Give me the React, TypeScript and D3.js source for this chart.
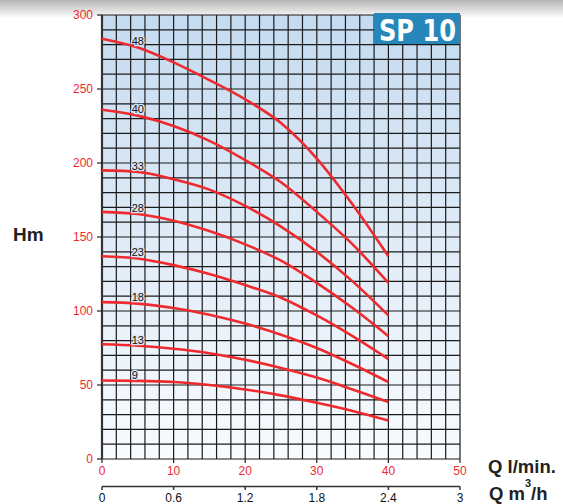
import React from "react";
import * as d3 from "d3";

// flow points (l/min) where the curves were read
const Q_LMIN = [0, 5, 10, 15, 20, 25, 30, 35, 40];

// head (m) per number of stages
const STAGES = ["48", "40", "33", "28", "23", "18", "13", "9"];
const H_48 = [284, 278, 268, 256, 243, 227, 203, 172, 137];
const H_40 = [236, 232, 225, 215, 202, 187, 167, 145, 119];
const H_33 = [195, 194, 189, 182, 171, 157, 140, 120, 97];
const H_28 = [167, 165.5, 161, 154, 145, 134, 119, 102, 83];
const H_23 = [137, 135.5, 131, 125, 117.5, 109, 97, 83, 67.5];
const H_18 = [106, 105, 102, 97.5, 91.5, 84, 75, 64, 52];
const H_13 = [77.5, 76.5, 74.5, 71.5, 67, 61.5, 55, 47, 38.5];
const H_9 = [53, 52.8, 52, 50, 47, 43, 38, 32.5, 26];

const H_TICKS = [0, 50, 100, 150, 200, 250, 300];
const Q_TICKS = [0, 10, 20, 30, 40, 50];
const M3H_TICKS = [0, 0.6, 1.2, 1.8, 2.4, 3];

const W = 563;
const H = 504;
const RED = "#ee2a2f";
const FONT = "'Liberation Sans', Arial, sans-serif";

export default function App() {
  const x = d3.scaleLinear().domain([0, 50]).range([102, 460]);
  const y = d3.scaleLinear().domain([0, 300]).range([459, 15]);
  const xm3 = d3.scaleLinear().domain([0, 3]).range([102, 460]);

  const series = [H_48, H_40, H_33, H_28, H_23, H_18, H_13, H_9];

  const line = d3
    .line<number>()
    .x((_, i) => x(Q_LMIN[i]))
    .y((d) => y(d))
    .curve(d3.curveMonotoneX);

  const vGrid = d3.range(0, 51, 2);
  const hGrid = d3.range(0, 301, 10);

  return (
    <svg
      width={W}
      height={H}
      style={{ position: "absolute", left: 0, top: 0 }}
      fontFamily={FONT}
    >
      <defs>
        <linearGradient id="topband" x1="0" y1="0" x2="0" y2="1">
          <stop offset="0" stopColor="#b4b4b4" />
          <stop offset="1" stopColor="#ffffff" />
        </linearGradient>
        <linearGradient id="plotbg" x1="0" y1="0" x2="0" y2="1">
          <stop offset="0" stopColor="#c5dbf0" />
          <stop offset="0.5" stopColor="#dfebf7" />
          <stop offset="1" stopColor="#f8fbfe" />
        </linearGradient>
      </defs>
      <rect width={W} height={H} fill="#fff" />
      <rect width={W} height={18} fill="url(#topband)" />

      {/* plot background */}
      <rect x={x(0)} y={y(300)} width={x(50) - x(0)} height={y(0) - y(300)} fill="url(#plotbg)" />

      {/* grid */}
      <g stroke="#1b1b1b" strokeWidth={1.2}>
        {vGrid.map((q) => (
          <line key={"v" + q} x1={x(q)} x2={x(q)} y1={y(300)} y2={y(0)} />
        ))}
        {hGrid.map((h) => (
          <line key={"h" + h} x1={x(0)} x2={x(50)} y1={y(h)} y2={y(h)} />
        ))}
      </g>
      <line x1={x(0)} x2={x(0)} y1={y(300)} y2={y(0)} stroke="#333" strokeWidth={2.2} />

      {/* left axis ticks */}
      {H_TICKS.map((h) => (
        <g key={"ht" + h}>
          <line x1={x(0) - 5} x2={x(0)} y1={y(h)} y2={y(h)} stroke="#222" strokeWidth={1.2} />
          <text x={x(0) - 9} y={y(h)} dy="0.35em" textAnchor="end" fill={RED} fontSize={12}>
            {h}
          </text>
        </g>
      ))}

      {/* l/min axis */}
      {Q_TICKS.map((q) => (
        <g key={"qt" + q}>
          <line x1={x(q)} x2={x(q)} y1={y(0)} y2={y(0) + 4} stroke="#222" strokeWidth={1.2} />
          <text x={x(q)} y={475} textAnchor="middle" fill={RED} fontSize={12}>
            {q}
          </text>
        </g>
      ))}

      {/* m3/h axis */}
      <line x1={xm3(0)} x2={xm3(3)} y1={486.5} y2={486.5} stroke="#333" strokeWidth={1.5} />
      {M3H_TICKS.map((m) => (
        <g key={"mt" + m}>
          <line x1={xm3(m)} x2={xm3(m)} y1={486.5} y2={490} stroke="#333" strokeWidth={1.5} />
          <text x={xm3(m)} y={502} textAnchor="middle" fill="#111" fontSize={12}>
            {m}
          </text>
        </g>
      ))}

      {/* curves */}
      {series.map((s, i) => (
        <path key={"c" + i} d={line(s) || ""} fill="none" stroke={RED} strokeWidth={2.6} />
      ))}

      {/* stage labels */}
      {series.map((s, i) => {
        const hv = s[0] + 0.9 * (s[1] - s[0]);
        return (
          <text
            key={"l" + i}
            x={x(4) + 1}
            y={y(hv) - 2}
            fontSize={11}
            fill="#111"
            stroke="#d9e7f5"
            strokeWidth={2.5}
            paintOrder="stroke"
          >
            {STAGES[i]}
          </text>
        );
      })}

      {/* badge */}
      <rect x={374} y={13} width={86} height={31} fill="#2786ba" />
      <text
        x={379}
        y={41}
        fill="#fff"
        fontSize={31}
        fontWeight="bold"
        fontFamily="'Liberation Sans Narrow', 'DejaVu Sans Condensed', Arial, sans-serif"
        textLength={77}
        lengthAdjust="spacingAndGlyphs"
      >
        SP 10
      </text>

      {/* axis titles */}
      <text x={13} y={241} fontSize={19} fontWeight="bold" fill="#222">
        Hm
      </text>
      <text x={488} y={473} fontSize={18.5} fontWeight="bold" fill="#222">
        Q l/min.
      </text>
      <text x={489} y={500} fontSize={18.5} fontWeight="bold" fill="#222">
        Q m
        <tspan dy={-13} fontSize={11}>3</tspan>
        <tspan dy={13}>/h</tspan>
      </text>
    </svg>
  );
}
